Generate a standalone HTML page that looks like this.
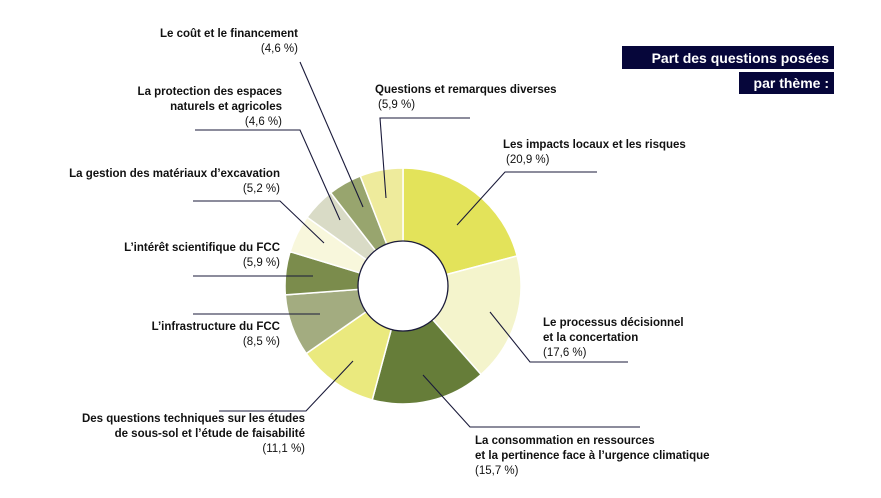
<!DOCTYPE html>
<html><head><meta charset="utf-8"><style>
body{margin:0;background:#fff;width:881px;height:493px;overflow:hidden;font-family:"Liberation Sans",sans-serif}
svg text{font-family:"Liberation Sans",sans-serif;font-size:11.5px;fill:#111}
.b{font-weight:bold}
</style></head><body>
<svg id="s" width="881" height="493" xmlns="http://www.w3.org/2000/svg">
<rect x="622" y="46" width="212" height="23" fill="#06063a"/>
<rect x="739" y="72" width="95" height="22" fill="#06063a"/>
<text x="829" y="63" text-anchor="end" style="fill:#fff;font-weight:bold;font-size:14px">Part des questions posées</text>
<text x="829" y="88" text-anchor="end" style="fill:#fff;font-weight:bold;font-size:14px">par thème :</text>
<g id="pie"></g>
<g stroke="#1a1a3a" stroke-width="1.1" fill="none">
<polyline points="300,62 363,207"/>
<polyline points="195,130 300,130 340,220"/>
<polyline points="470,118 380,118 386,198"/>
<polyline points="597,172 505,172 457,225"/>
<polyline points="490,312 530,362 628,362"/>
<polyline points="423,375 470,427 640,427"/>
<polyline points="219,411 306,411 353,361"/>
<polyline points="193,276 313,276"/>
<polyline points="193,314 320,314"/>
<polyline points="193,201 280,201 324,243"/>
</g>
<g text-anchor="end">
<text x="298" y="37" class="b">Le coût et le financement</text><text x="298" y="52">(4,6 %)</text>
<text x="282" y="95" class="b">La protection des espaces</text><text x="282" y="110" class="b">naturels et agricoles</text><text x="282" y="125">(4,6 %)</text>
<text x="280" y="177" class="b">La gestion des matériaux d’excavation</text><text x="280" y="192">(5,2 %)</text>
<text x="280" y="251" class="b">L’intérêt scientifique du FCC</text><text x="280" y="266">(5,9 %)</text>
<text x="280" y="330" class="b">L’infrastructure du FCC</text><text x="280" y="345">(8,5 %)</text>
<text x="305" y="422" class="b">Des questions techniques sur les études</text><text x="305" y="437" class="b">de sous-sol et l’étude de faisabilité</text><text x="305" y="452">(11,1 %)</text>
</g>
<text x="375" y="93" class="b">Questions et remarques diverses</text><text x="378" y="108">(5,9 %)</text>
<text x="503" y="148" class="b">Les impacts locaux et les risques</text><text x="506" y="163">(20,9 %)</text>
<text x="543" y="326" class="b">Le processus décisionnel</text><text x="543" y="341" class="b">et la concertation</text><text x="543" y="356">(17,6 %)</text>
<text x="475" y="444" class="b">La consommation en ressources</text><text x="475" y="459" class="b">et la pertinence face à l’urgence climatique</text><text x="475" y="474">(15,7 %)</text>
</svg>
<script>
var d=[[20.9,"#e3e35a"],[17.6,"#f4f4cc"],[15.7,"#667d39"],[11.1,"#eae97e"],[8.5,"#a3ac80"],[5.9,"#7b8c4c"],[5.2,"#f8f7dc"],[4.6,"#d9dbc6"],[4.6,"#98a56e"],[5.9,"#eeeb9c"]];
var cx=403,cy=286,R=118,c=0,g=document.getElementById("pie"),h="";
function p(a,r){var t=a/100*2*Math.PI;return [cx+r*Math.sin(t),cy-r*Math.cos(t)];}
d.forEach(function(e){var a=c,b=c+e[0];c=b;var s=p(a,R),t=p(b,R),l=e[0]>50?1:0;
h+='<path d="M'+cx+','+cy+'L'+s[0]+','+s[1]+'A'+R+','+R+' 0 '+l+' 1 '+t[0]+','+t[1]+'Z" fill="'+e[1]+'" stroke="#fff" stroke-width="1.5"/>';});
h+='<circle cx="'+cx+'" cy="'+cy+'" r="45" fill="#fff" stroke="#1a1a3a" stroke-width="1.3"/>';
g.innerHTML=h;
</script>
</body></html>
